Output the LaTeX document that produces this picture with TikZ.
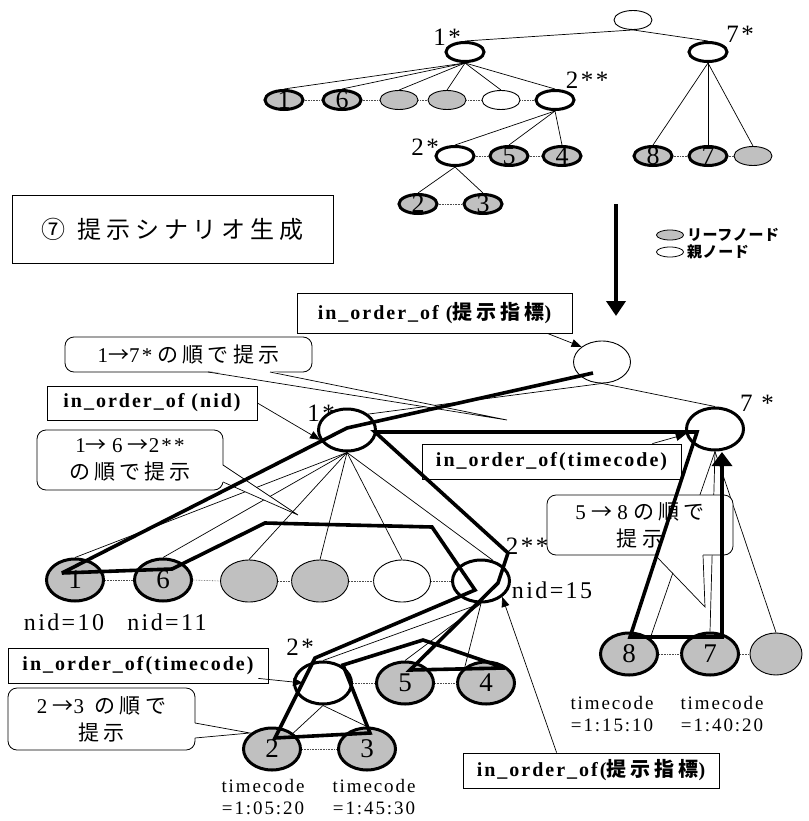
\documentclass[tikz,border=0pt]{standalone}
\usepackage{fontspec}
\setmainfont{Liberation Serif}
\newfontfamily\wide{Liberation Serif}[LetterSpace=10]
\newfontfamily\jp{Noto Sans CJK JP}[LetterSpace=20]
\newfontfamily\jptight{Noto Sans CJK JP}[LetterSpace=4]
\usepackage{tikz}
\usetikzlibrary{arrows.meta, positioning, shapes.geometric, calc}

\definecolor{leafgray}{RGB}{192,192,192}

\begin{document}
\begin{tikzpicture}[x=1pt, y=-1pt,
  oval/.style={ellipse, draw, inner sep=0pt, line width=0.9pt},
  smalloval/.style={oval, minimum width=38pt, minimum height=19pt},
  bigoval/.style={oval, minimum width=57pt, minimum height=42pt},
  leafnode/.style={fill=leafgray},
  parentnode/.style={fill=white},
  hl/.style={line width=3pt},
  digit/.style={font=\fontsize{26}{26}\selectfont, inner sep=0pt},
  bigdigit/.style={font=\fontsize{27}{27}\selectfont, inner sep=0pt},
  starlbl/.style={font=\wide\fontsize{25}{25}\selectfont, inner sep=0pt},
  nidlbl/.style={font=\wide\fontsize{24}{24}\selectfont, inner sep=0pt},
  tclbl/.style={font=\wide\fontsize{19}{22}\selectfont, align=center, inner sep=0pt},
  branch/.style={line width=0.7pt},
  sibline/.style={densely dotted, line width=0.6pt, black!70},
  tagbox/.style={draw, fill=white, line width=0.8pt, inner sep=0pt,
    font=\wide\bfseries\fontsize{20}{20}\selectfont},
  callout/.style={draw, fill=white, line width=0.8pt, rounded corners=9pt,
    inner sep=0pt, align=center, font=\fontsize{21}{27}\selectfont},
  pointer/.style={line width=0.7pt, -{Triangle[length=10pt,width=8pt]}},
  walk/.style={line width=3.6pt, line join=miter, miter limit=3},
  bigarrow/.style={line width=4pt, -{Triangle[length=15pt,width=19pt]}}
]
\useasboundingbox (0,0) rectangle (808,821);

% --- upper tree ---
\node[smalloval, parentnode] (uroot) at (633,20) {};
\node[smalloval, parentnode, hl] (u1s) at (465,52) {};
\node[smalloval, parentnode, hl] (u7s) at (708,52) {};
\node[smalloval, leafnode, hl, label={[digit]center:1}] (uL1) at (284,100) {};
\node[smalloval, leafnode, hl, label={[digit]center:6}] (uL6) at (342,100) {};
\node[smalloval, leafnode] (uLa) at (399,100) {};
\node[smalloval, leafnode] (uLb) at (447,100) {};
\node[smalloval, parentnode] (uLw) at (501,100) {};
\node[smalloval, parentnode, hl] (u2ss) at (555,100) {};
\node[smalloval, parentnode, hl] (u2s) at (455,156) {};
\node[smalloval, leafnode, hl, label={[digit]center:5}] (uL5) at (509,156) {};
\node[smalloval, leafnode, hl, label={[digit]center:4}] (uL4) at (562,156) {};
\node[smalloval, leafnode, hl, label={[digit]center:2}] (uL2) at (418,204) {};
\node[smalloval, leafnode, hl, label={[digit]center:3}] (uL3) at (483,204) {};
\node[smalloval, leafnode, hl, label={[digit]center:8}] (uL8) at (653,156) {};
\node[smalloval, leafnode, hl, label={[digit]center:7}] (uL7) at (708,156) {};
\node[smalloval, leafnode] (uLc) at (753,156) {};

\node[starlbl] (u1slbl) at (447,37) {1*};
\node[starlbl] (u7slbl) at (740,34) {7*};
\node[starlbl] (u2sslbl) at (587,80) {2**};
\node[starlbl] (u2slbl) at (425,147) {2*};

\draw[branch] (uroot.south) -- (u1s.north);
\draw[branch] (uroot.south) -- (u7s.north);
\foreach \c in {uL1, uL6, uLa, uLb, uLw, u2ss}
  \draw[branch] (u1s.south) -- (\c.north);
\foreach \c in {u2s, uL5, uL4}
  \draw[branch] (u2ss.south) -- (\c.north);
\foreach \c in {uL2, uL3}
  \draw[branch] (u2s.south) -- (\c.north);
\foreach \c in {uL8, uL7, uLc}
  \draw[branch] (u7s.south) -- (\c.north);

\draw[sibline] (uL1.east) -- (uL6.west);
\draw[sibline] (uL6.east) -- (uLa.west);
\draw[sibline] (uLa.east) -- (uLb.west);
\draw[sibline] (uLb.east) -- (uLw.west);
\draw[sibline] (uLw.east) -- (u2ss.west);
\draw[sibline] (u2s.east) -- (uL5.west);
\draw[sibline] (uL5.east) -- (uL4.west);
\draw[sibline] (uL2.east) -- (uL3.west);
\draw[sibline] (uL8.east) -- (uL7.west);
\draw[sibline] (uL7.east) -- (uLc.west);

% --- title, arrow and legend ---
\node[draw, line width=0.8pt, minimum width=321pt, minimum height=68pt, inner sep=0pt]
  (title) at (172.5,229) {\jp\fontsize{24}{24}\selectfont ⑦\hspace{12pt}提示シナリオ生成};

\coordinate (arrtop) at (616,204);
\coordinate (arrtip) at (616,316);
\draw[bigarrow] (arrtop) -- (arrtip);

\node[oval, leafnode, line width=0.8pt, minimum width=27pt, minimum height=10pt] (legleaf) at (670,235) {};
\node[oval, parentnode, line width=0.8pt, minimum width=27pt, minimum height=10pt] (legpar) at (670,252) {};
\node[right=3pt of legleaf, inner sep=0pt, font=\jptight\bfseries\fontsize{15}{15}\selectfont] (legleaftxt) {リーフノード};
\node[right=3pt of legpar, inner sep=0pt, font=\jptight\bfseries\fontsize{15}{15}\selectfont] (legpartxt) {親ノード};

% --- lower tree ---
\node[bigoval, parentnode] (broot) at (602,362) {};
\node[bigoval, parentnode, hl] (b1s) at (347,430) {};
\node[bigoval, parentnode, hl] (b7s) at (715,429) {};
\node[bigoval, leafnode, hl, label={[bigdigit]center:1}] (bL1) at (75,580) {};
\node[bigoval, leafnode, hl, label={[bigdigit]center:6}] (bL6) at (163,580) {};
\node[bigoval, leafnode] (bLa) at (249,581) {};
\node[bigoval, leafnode] (bLb) at (320,581) {};
\node[bigoval, parentnode] (bLw) at (402,581) {};
\node[bigoval, parentnode, hl] (b2ss) at (481,581) {};
\node[bigoval, parentnode, hl] (b2s) at (323,683) {};
\node[bigoval, leafnode, hl, label={[bigdigit]center:5}] (bL5) at (405,683) {};
\node[bigoval, leafnode, hl, label={[bigdigit]center:4}] (bL4) at (486,683) {};
\node[bigoval, leafnode, hl, label={[bigdigit]center:2}] (bL2) at (272,749) {};
\node[bigoval, leafnode, hl, label={[bigdigit]center:3}] (bL3) at (367,749) {};
\node[bigoval, leafnode, hl, label={[bigdigit]center:8}] (bL8) at (629,654) {};
\node[bigoval, leafnode, hl, label={[bigdigit]center:7}] (bL7) at (710,654) {};
\node[bigoval, leafnode, minimum width=52pt] (bLc) at (776,654) {};

\draw[branch] (broot.south) -- (b1s.north east);
\draw[branch] (broot.south) -- (b7s.north);
\foreach \c in {bL1, bL6, bLa, bLb, bLw}
  \draw[branch] (b1s.south) -- (\c.north);
\draw[branch] (b1s.south) -- (b2ss.60);
\draw[branch] (b2ss.south) -- (b2s.north);
\draw[branch] (b2ss.south) -- (bL5.north);
\draw[branch] (b2ss.south) -- (bL4.north west);
\draw[branch] (b2s.south) -- (bL2.north east);
\draw[branch] (b2s.south) -- (bL3.north);
\draw[branch] (b7s.south) -- (bL8.north east);
\draw[branch] (b7s.south) -- (bL7.north);
\draw[branch] (b7s.south) -- (bLc.north);

\draw[sibline] (bL1.east) -- (bL6.west);
\draw[sibline] (bL6.east) -- (bLa.west);
\draw[sibline] (bLa.east) -- (bLb.west);
\draw[sibline] (bLb.east) -- (bLw.west);
\draw[sibline] (bLw.east) -- (b2ss.west);
\draw[sibline] (b2s.east) -- (bL5.west);
\draw[sibline] (bL5.east) -- (bL4.west);
\draw[sibline] (bL2.east) -- (bL3.west);
\draw[sibline] (bL8.east) -- (bL7.west);
\draw[sibline] (bL7.east) -- (bLc.west);

\node[starlbl] (b1slbl) at (321,413) {1*};
\node[starlbl] (b7slbl) at (757,403) {7 *};
\node[starlbl] (b2sslbl) at (527,546) {2**};
\node[starlbl] (b2slbl) at (300,647) {2*};
\node[nidlbl] (nid10) at (64,622) {nid=10};
\node[nidlbl] (nid11) at (167,622) {nid=11};
\node[nidlbl] (nid15) at (552,590) {nid=15};
\node[tclbl] (tc2) at (263,797) {timecode\\=1:05:20};
\node[tclbl] (tc3) at (374,797) {timecode\\=1:45:30};
\node[tclbl] (tc8) at (612,714) {timecode\\=1:15:10};
\node[tclbl] (tc7) at (722,714) {timecode\\=1:40:20};

% --- order tags ---
\node[tagbox, minimum width=275pt, minimum height=40pt] (tagtop) at (434.5,313)
  {in\_order\_of ({\jp\bfseries\fontsize{20}{20}\selectfont 提示指標})};
\node[tagbox, minimum width=210pt, minimum height=34pt] (tagnid) at (152,403)
  {in\_order\_of (nid)};
\node[tagbox, minimum width=259pt, minimum height=35pt] (tagtcr) at (551.5,461.5)
  {in\_order\_of(timecode)};
\node[tagbox, minimum width=260pt, minimum height=35pt] (tagtcl) at (138,665.5)
  {in\_order\_of(timecode)};
\node[tagbox, minimum width=256pt, minimum height=35pt] (tagbot) at (591,770.5)
  {in\_order\_of({\jp\bfseries\fontsize{20}{20}\selectfont 提示指標})};

% --- callouts ---
\node[callout, minimum width=247pt, minimum height=35pt] (calla) at (188.5,354.5)
  {{\wide 1}{\jp →}{\wide 7*}\ {\jp の順で提示}};
\node[callout, minimum width=186pt, minimum height=60pt] (callb) at (130,460)
  {{\wide 1}{\jp →}\ {\wide 6}\ {\jp →}{\wide 2**}\\{\jp の順で提示}};
\node[callout, minimum width=187pt, minimum height=62pt] (callc) at (101.5,719)
  {{\wide 2}\ {\jp →}{\wide 3}\ \ {\jp の順で}\\{\jp 提示}};
\node[callout, minimum width=186pt, minimum height=60pt] (calld) at (640,525)
  {{\wide 5}\ {\jp →}\ {\wide 8}\ {\jp の順で}\\{\jp 提示}};

\coordinate (tipa) at (507,420);
\coordinate (tipb) at (298,515);
\coordinate (tipc) at (250,733);
\coordinate (tipd) at (705,607);
\fill[white] ($(calla.south)+(19.5,-1.5)$) -- (tipa) -- ($(calla.south)+(81.5,-1.5)$) -- cycle;
\draw[branch] ($(calla.south)+(19.5,-0.4)$) -- (tipa) -- ($(calla.south)+(81.5,-0.4)$);
\fill[white] ($(callb.east)+(-1.5,5)$) -- (tipb) -- ($(callb.east)+(-1.5,22)$) -- cycle;
\draw[branch] ($(callb.east)+(-0.4,5)$) -- (tipb) -- ($(callb.east)+(-0.4,22)$);
\fill[white] ($(callc.east)+(-1.5,4)$) -- (tipc) -- ($(callc.east)+(-1.5,19)$) -- cycle;
\draw[branch] ($(callc.east)+(-0.4,4)$) -- (tipc) -- ($(callc.east)+(-0.4,19)$);
\fill[white] ($(calld.south)+(15,-1.5)$) -- (tipd) -- ($(calld.south)+(63,-1.5)$) -- cycle;
\draw[branch] ($(calld.south)+(15,-0.4)$) -- (tipd) -- ($(calld.south)+(63,-0.4)$);

% --- presentation walk ---
\coordinate (w01) at (593,373);
\coordinate (w02) at (347,428);
\coordinate (w03) at (62,573);
\coordinate (w04) at (172,569);
\coordinate (w05) at (265,523);
\coordinate (w06) at (432,527);
\coordinate (w07) at (475,590);
\coordinate (w08) at (315,658);
\coordinate (w09) at (275,738);
\coordinate (w10) at (370,733);
\coordinate (w11) at (343,665);
\coordinate (w12) at (423,640);
\coordinate (w13) at (505,668);
\coordinate (w14) at (410,670);
\coordinate (w15) at (498,583);
\coordinate (w16) at (508,553);
\coordinate (w17) at (375,432);
\coordinate (w18) at (697,432);
\coordinate (w19) at (630,637);
\coordinate (w20) at (722,637);
\coordinate (w21) at (722,452);
\draw[walk, -{Triangle[length=14pt,width=20pt]}] (w01) -- (w02) -- (w03) -- (w04) -- (w05)
  -- (w06) -- (w07) -- (w08) -- (w09) -- (w10) -- (w11) -- (w12) -- (w13) -- (w14)
  -- (w15) -- (w16) -- (w17) -- (w18) -- (w19) -- (w20) -- (w21);

% --- tag pointers ---
\draw[pointer] ($(tagtop.south east)+(-25,0)$) -- (broot.north west);
\draw[pointer] (tagnid.east) -- (b1s.200);
\draw[pointer] ($(tagtcr.north east)+(-29,0)$) -- (b7s.190);
\draw[pointer] ($(tagtcl.south east)+(-10,-5)$) -- ([xshift=10pt]b2s.west);
\draw[pointer] ($(tagbot.north west)+(94,0)$) -- (b2ss.south east);

\end{tikzpicture}
\end{document}
